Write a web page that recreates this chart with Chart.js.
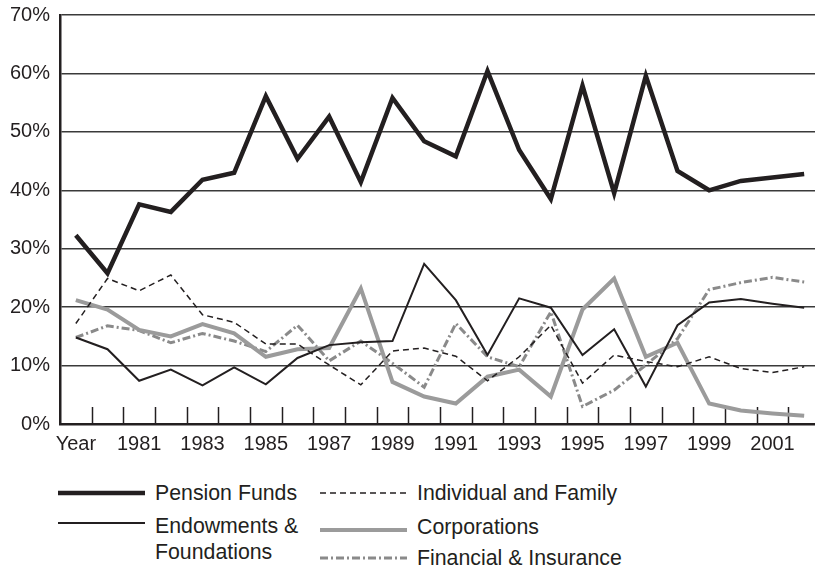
<!DOCTYPE html>
<html>
<head>
<meta charset="utf-8">
<script src="https://cdn.jsdelivr.net/npm/chart.js@4/dist/chart.umd.min.js"></script>
<style>
    html, body { margin: 0; padding: 0; background: #fff; overflow: hidden; }
    body { width: 815px; height: 570px; position: relative; font-family: "Liberation Sans", Arial, Helvetica, sans-serif; color: #231f20; }
    #chart-wrap { position: absolute; left: 0; top: 0; width: 820px; height: 460px; }
    .leg-line { position: absolute; }
    .leg-text { position: absolute; font-size: 21.3px; line-height: 26px; white-space: nowrap; }
</style>
</head>
<body>
<div id="chart-wrap"><canvas id="ownershipChart"></canvas></div>
<div id="legend"></div>
<script>
// Years (first category is labelled "Year")
const years = ['Year', '1980', '1981', '1982', '1983', '1984', '1985', '1986', '1987', '1988', '1989', '1990',
    '1991', '1992', '1993', '1994', '1995', '1996', '1997', '1998', '1999', '2000', '2001', '2002'];

// Share of total, in percent
const pensionFunds = [32.3, 25.8, 37.6, 36.3, 41.8, 43.0, 56.1, 45.4, 52.6, 41.4, 55.8, 48.4,
    45.8, 60.4, 46.9, 38.5, 57.9, 39.5, 59.6, 43.3, 40.0, 41.6, 42.2, 42.8];
const endowments = [14.8, 12.8, 7.4, 9.3, 6.6, 9.7, 6.8, 11.3, 13.5, 14.0, 14.2, 27.4,
    21.2, 11.8, 21.5, 19.9, 11.8, 16.2, 6.4, 16.9, 20.8, 21.4, 20.6, 19.9];
const individualFamily = [17.2, 24.9, 22.8, 25.5, 18.7, 17.4, 13.7, 13.7, 10.1, 6.7, 12.5, 13.0,
    11.6, 7.4, 11.5, 16.9, 7.0, 11.8, 10.7, 9.8, 11.5, 9.5, 8.8, 9.8];
const corporations = [21.2, 19.6, 16.1, 15.0, 17.1, 15.5, 11.5, 12.8, 13.0, 23.2, 7.2, 4.7,
    3.5, 8.1, 9.3, 4.7, 19.6, 24.9, 11.5, 13.9, 3.5, 2.3, 1.8, 1.4];
const financialInsurance = [14.8, 16.8, 16.0, 13.9, 15.5, 14.2, 12.4, 16.9, 10.8, 14.2, 10.4, 6.3,
    17.2, 11.5, 9.8, 19.2, 3.0, 5.8, 10.1, 14.6, 23.0, 24.2, 25.1, 24.3];

const yTicks = [0, 10, 20, 30, 40, 50, 60, 70];

const ink = '#231f20';
const fontFamily = '"Liberation Sans", Arial, Helvetica, sans-serif';

// Short tick marks standing up from the x axis, between categories
const innerTicks = {
    id: 'innerTicks',
    beforeDatasetsDraw(chart) {
        const x = chart.scales.x;
        const bottom = chart.chartArea.bottom;
        const ctx = chart.ctx;
        ctx.save();
        ctx.strokeStyle = ink;
        ctx.lineWidth = 1.5;
        for (let i = 1; i < years.length; i++) {
            const px = Math.round((x.getPixelForValue(i - 1) + x.getPixelForValue(i)) / 2) + 0.5;
            ctx.beginPath();
            ctx.moveTo(px, bottom);
            ctx.lineTo(px, bottom - 17);
            ctx.stroke();
        }
        ctx.restore();
    }
};

const chart = new Chart(document.getElementById('ownershipChart'), {
    type: 'line',
    data: {
        labels: years,
        datasets: [
            { label: 'Pension Funds', data: pensionFunds, borderColor: ink, borderWidth: 4.5 },
            { label: 'Endowments & Foundations', data: endowments, borderColor: ink, borderWidth: 2 },
            { label: 'Individual and Family', data: individualFamily, borderColor: ink, borderWidth: 1.5, borderDash: [6, 4] },
            { label: 'Corporations', data: corporations, borderColor: '#9b9b9b', borderWidth: 4 },
            { label: 'Financial & Insurance', data: financialInsurance, borderColor: '#8a8a8a', borderWidth: 3, borderDash: [8, 3, 2, 3] }
        ]
    },
    options: {
        responsive: true,
        maintainAspectRatio: false,
        animation: false,
        layout: { padding: { top: 15, left: 0, right: 0, bottom: 0 } },
        elements: {
            point: { radius: 0, hoverRadius: 0 },
            line: { tension: 0, borderJoinStyle: 'miter', borderCapStyle: 'butt', fill: false }
        },
        plugins: { legend: { display: false }, tooltip: { enabled: false } },
        scales: {
            x: {
                offset: true,
                grid: { display: false, drawTicks: false },
                border: { display: true, color: ink, width: 2.5 },
                ticks: {
                    autoSkip: false,
                    maxRotation: 0,
                    padding: 8,
                    color: ink,
                    font: { family: fontFamily, size: 20 },
                    callback: (v, i) => (i % 2 === 0 ? years[i] : '')
                },
                afterFit: s => { s.height = 36; s.paddingLeft = 0; s.paddingRight = 0; }
            },
            y: {
                min: 0,
                max: 70,
                afterBuildTicks: s => { s.ticks = yTicks.map(v => ({ value: v })); },
                grid: { color: '#3a3a3a', lineWidth: 1.4, drawTicks: false },
                border: { display: true, color: ink, width: 2.5 },
                ticks: {
                    padding: 10,
                    color: ink,
                    font: { family: fontFamily, size: 20 },
                    callback: v => v + '%'
                },
                afterFit: s => { s.width = 60; s.paddingTop = 0; s.paddingBottom = 0; }
            }
        }
    },
    plugins: [innerTicks]
});

// Legend laid out in two columns below the plot
const legendSpots = [
    { lineX: 58, lineY: 493, textX: 155, textY: 480, text: ['Pension Funds'] },
    { lineX: 58, lineY: 523, textX: 155, textY: 513, text: ['Endowments &', 'Foundations'] },
    { lineX: 320, lineY: 493, textX: 417, textY: 480, text: ['Individual and Family'] },
    { lineX: 320, lineY: 530, textX: 417, textY: 514, text: ['Corporations'] },
    { lineX: 320, lineY: 558, textX: 417, textY: 545, text: ['Financial & Insurance'] }
];
const legendEl = document.getElementById('legend');
chart.data.datasets.forEach((ds, i) => {
    const spot = legendSpots[i];
    const dash = ds.borderDash ? ds.borderDash.join(',') : 'none';
    const svg = document.createElementNS('http://www.w3.org/2000/svg', 'svg');
    svg.setAttribute('class', 'leg-line');
    svg.setAttribute('width', '88');
    svg.setAttribute('height', '10');
    svg.style.left = spot.lineX + 'px';
    svg.style.top = (spot.lineY - 5) + 'px';
    svg.innerHTML = `<line x1="0" y1="5" x2="87" y2="5" stroke="${ds.borderColor}" stroke-width="${ds.borderWidth}" stroke-dasharray="${dash}"/>`;
    legendEl.appendChild(svg);

    const txt = document.createElement('div');
    txt.className = 'leg-text';
    txt.style.left = spot.textX + 'px';
    txt.style.top = spot.textY + 'px';
    txt.innerHTML = spot.text.join('<br>').replace(/&(?!lt|gt|amp)/g, '&amp;');
    legendEl.appendChild(txt);
});
</script>
</body>
</html>
